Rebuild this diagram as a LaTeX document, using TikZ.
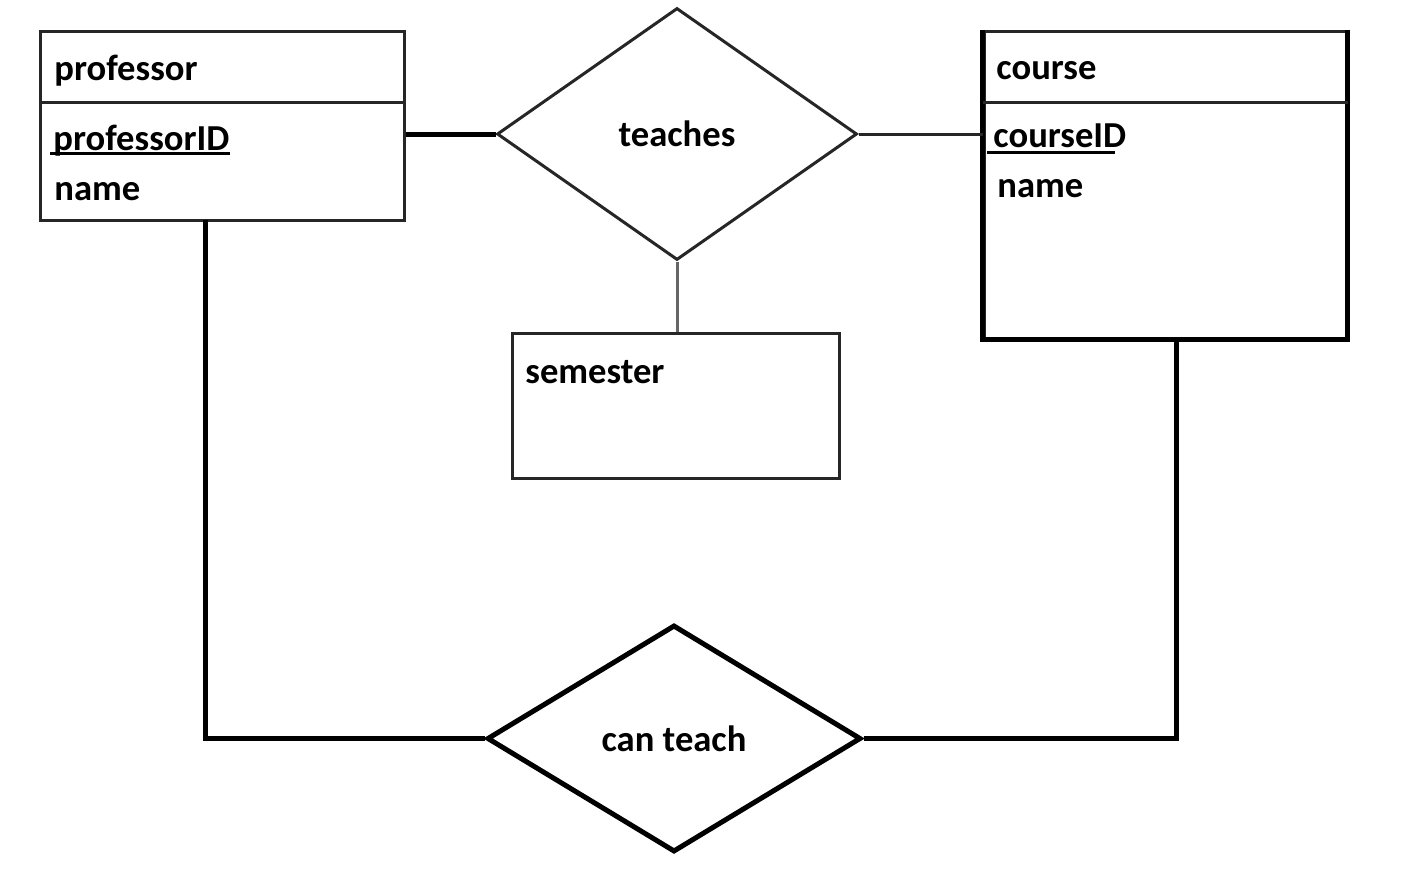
\documentclass[tikz,border=0pt]{standalone}
\usepackage{fontspec}
\setmainfont{Carlito}
\usepackage{tikz}
\usetikzlibrary{shapes.geometric}
\colorlet{erline}{black!85}
\colorlet{ergray}{black!60}
\tikzstyle{ertext}=[font=\fontsize{18.3}{22}\selectfont\bfseries]
\tikzstyle{entity}=[draw=erline,line width=1.5pt,inner sep=0pt]
\tikzstyle{rel}=[draw=erline,line width=1.5pt,diamond,inner sep=0pt,ertext]
\tikzstyle{attr}=[inner sep=0pt,anchor=base west,ertext]
\tikzstyle{thin}=[draw=erline,line width=1.5pt]
\tikzstyle{thickk}=[draw=black,line width=2.5pt]

\begin{document}
\begin{tikzpicture}[x=0.5pt,y=-0.5pt]
	\useasboundingbox (0,0) rectangle (1407,872);
	% entities
	\node[entity,minimum width=182pt,minimum height=94pt] (prof) at (222,126) {};
	\node[entity,minimum width=181pt,minimum height=153pt] (course) at (1165,185) {};
	\node[entity,minimum width=163.5pt,minimum height=72.5pt] (sem) at (675.5,405.5) {};
	\draw[thickk] (course.north west) -- (course.south west) -- (course.south east) -- (course.north east);
	\draw[thin] (prof.west |- 0,103) -- (prof.east |- 0,103);
	\draw[thin] (course.west |- 0,103) -- (course.east |- 0,103);
	% relationships
	\node[rel,minimum width=180pt,minimum height=126pt] (teaches) at (677,134) {teaches};
	\node[rel,line width=2.5pt,draw=black,minimum width=187pt,minimum height=113.5pt] (canteach) at (674,738.5) {can teach};
	% attributes
	\node[attr] (pname) at (54,81) {professor};
	\node[attr] (pid) at (53,150) {professorID};
	\node[attr] (pattr) at (54,200) {name};
	\node[attr] (cname) at (996,80) {course};
	\node[attr] (cid) at (993,148) {courseID};
	\node[attr] (cattr) at (997,197) {name};
	\node[attr] (sname) at (525,383) {semester};
	\draw[line width=1.5pt] ([shift={(-3,3)}]pid.base west) -- ([shift={(0,3)}]pid.base east);
	\draw[line width=1.5pt] ([shift={(-6,4)}]cid.base west) -- ([shift={(-12,4)}]cid.base east);
	% connectors
	\coordinate (pleg) at (205,220);
	\coordinate (cleg) at (1176,338);
	\draw[thickk] (teaches.west -| prof.east) -- (teaches.west);
	\draw[thin] (teaches.east) -- (teaches.east -| course.west);
	\draw[thin,draw=ergray] (teaches.south) -- (teaches.south |- sem.north);
	\draw[thickk] (pleg) |- (canteach.west);
	\draw[thickk] (canteach.east) -| (cleg);
\end{tikzpicture}
\end{document}
